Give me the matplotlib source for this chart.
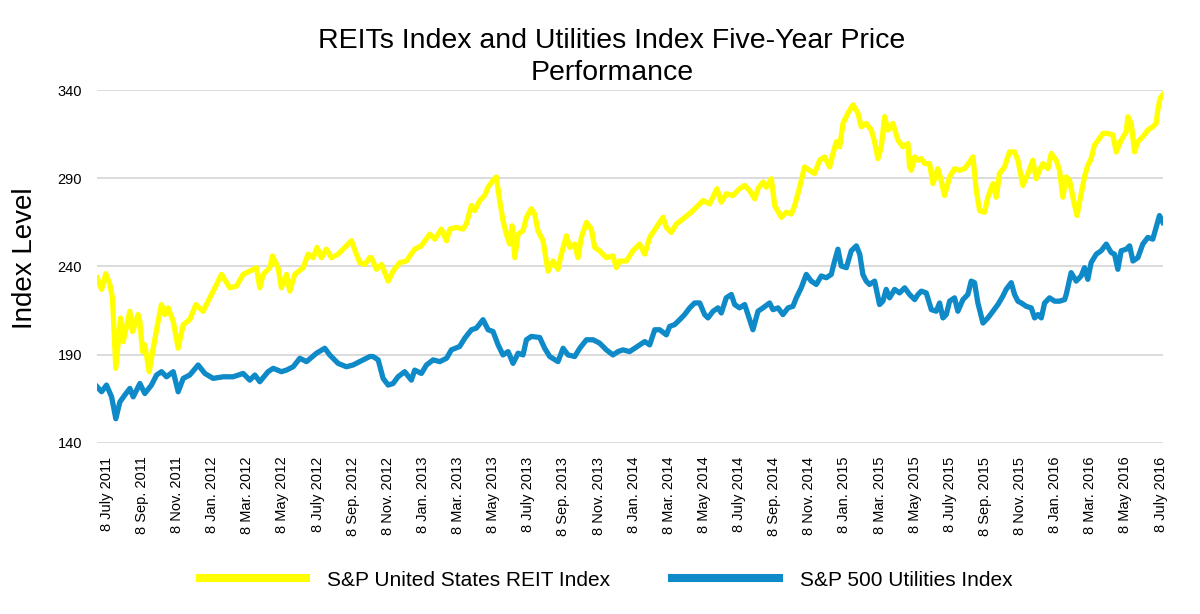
import numpy as np
import matplotlib.pyplot as plt
from matplotlib.lines import Line2D

plt.rcParams['font.family'] = ['Liberation Sans', 'DejaVu Sans']

# x = months after 8 July 2011, y = index level
tick_labels = ['8 July 2011', '8 Sep. 2011', '8 Nov. 2011', '8 Jan. 2012', '8 Mar. 2012',
               '8 May 2012', '8 July 2012', '8 Sep. 2012', '8 Nov. 2012', '8 Jan. 2013',
               '8 Mar. 2013', '8 May 2013', '8 July 2013', '8 Sep. 2013', '8 Nov. 2013',
               '8 Jan. 2014', '8 Mar. 2014', '8 May 2014', '8 July 2014', '8 Sep. 2014',
               '8 Nov. 2014', '8 Jan. 2015', '8 Mar. 2015', '8 May 2015', '8 July 2015',
               '8 Sep. 2015', '8 Nov. 2015', '8 Jan. 2016', '8 Mar. 2016', '8 May 2016',
               '8 July 2016']
yticks = [140, 190, 240, 290, 340]

reit = [(-0.55, 233.6), (-0.30, 227.0), (-0.06, 235.9), (0.17, 229.8), (0.32, 222.2),
        (0.51, 182.2), (0.78, 210.8), (0.93, 197.4), (1.31, 214.6), (1.46, 203.1),
        (1.78, 212.7), (1.88, 208.9), (2.03, 191.7), (2.16, 195.5), (2.41, 180.3),
        (2.64, 193.6), (2.92, 208.9), (3.11, 218.4), (3.30, 212.7), (3.49, 216.5),
        (3.78, 208.9), (4.06, 193.6), (4.35, 207.0), (4.72, 209.8), (5.07, 218.4),
        (5.48, 214.6), (5.77, 220.3), (6.34, 231.7), (6.53, 235.5), (7.00, 227.9),
        (7.38, 228.9), (7.76, 235.5), (8.52, 239.3), (8.71, 227.9), (8.90, 235.5),
        (9.28, 239.3), (9.43, 246.0), (9.75, 239.3), (9.94, 227.9), (10.23, 235.5),
        (10.42, 226.0), (10.70, 235.5), (11.18, 239.3), (11.46, 247.0), (11.75, 245.0),
        (11.97, 250.8), (12.22, 245.0), (12.50, 249.8), (12.79, 245.0), (13.17, 247.0),
        (13.64, 251.7), (13.93, 254.6), (14.21, 247.0), (14.40, 242.2), (14.69, 241.2),
        (14.97, 245.0), (15.07, 245.0), (15.35, 238.4), (15.64, 241.2), (16.02, 231.7),
        (16.30, 237.4), (16.68, 242.2), (17.06, 243.1), (17.25, 246.0), (17.53, 249.8),
        (17.91, 251.7), (18.39, 258.4), (18.67, 255.5), (19.05, 261.2), (19.34, 254.6),
        (19.53, 261.2), (19.91, 262.2), (20.28, 261.2), (20.47, 264.1), (20.76, 274.6),
        (20.95, 271.7), (21.23, 277.4), (21.52, 280.3), (21.71, 285.0), (21.99, 288.9),
        (22.18, 290.8), (22.37, 277.4), (22.56, 266.0), (22.75, 258.4), (22.94, 252.7),
        (23.07, 263.1), (23.23, 245.0), (23.42, 258.4), (23.70, 260.3), (23.89, 267.9),
        (24.17, 272.7), (24.36, 269.8), (24.55, 260.3), (24.84, 254.6), (25.12, 237.4),
        (25.41, 243.1), (25.69, 238.4), (25.88, 247.0), (26.17, 257.4), (26.36, 250.8),
        (26.64, 252.7), (26.83, 245.0), (27.02, 256.5), (27.31, 265.0), (27.59, 261.2),
        (27.78, 250.8), (28.06, 248.9), (28.44, 245.0), (28.82, 246.0), (29.01, 239.3),
        (29.20, 243.1), (29.58, 243.1), (29.96, 248.9), (30.34, 252.7), (30.63, 247.0),
        (30.91, 256.5), (31.29, 262.2), (31.67, 267.9), (31.86, 262.2), (32.14, 259.3),
        (32.43, 264.1), (32.81, 267.0), (33.28, 270.8), (33.57, 273.6), (33.95, 277.4),
        (34.33, 275.5), (34.74, 284.1), (34.99, 276.5), (35.27, 281.2), (35.65, 280.3),
        (36.03, 284.1), (36.32, 286.0), (36.60, 283.1), (36.89, 278.4), (37.08, 284.1),
        (37.36, 287.9), (37.55, 285.0), (37.84, 289.8), (38.03, 274.6), (38.41, 267.9),
        (38.69, 270.8), (38.98, 269.8), (39.17, 274.6), (39.45, 285.0), (39.73, 296.5),
        (40.02, 294.6), (40.30, 292.7), (40.59, 300.3), (40.87, 302.2), (41.16, 296.5),
        (41.35, 304.1), (41.54, 310.8), (41.73, 307.9), (41.92, 321.2), (42.20, 327.0),
        (42.49, 331.7), (42.77, 327.0), (42.96, 319.3), (43.24, 321.2), (43.53, 317.4),
        (43.72, 310.8), (43.91, 301.2), (44.10, 307.9), (44.29, 325.0), (44.48, 317.4),
        (44.76, 321.2), (45.05, 311.7), (45.33, 307.9), (45.62, 309.8), (45.71, 296.5),
        (45.81, 294.6), (46.00, 302.2), (46.19, 300.3), (46.38, 301.2), (46.57, 298.4),
        (46.85, 298.4), (47.04, 287.0), (47.32, 295.5), (47.51, 288.9), (47.70, 280.3),
        (47.99, 290.8), (48.27, 295.5), (48.56, 294.6), (48.84, 295.5), (49.13, 299.3),
        (49.32, 302.2), (49.51, 283.1), (49.70, 271.7), (49.98, 270.8), (50.17, 279.3),
        (50.46, 287.0), (50.65, 279.3), (50.83, 292.7), (51.12, 296.5), (51.40, 305.0),
        (51.69, 305.0), (51.88, 300.3), (52.16, 286.0), (52.45, 292.7), (52.73, 300.3),
        (52.92, 289.8), (53.11, 294.6), (53.30, 298.4), (53.59, 295.5), (53.78, 304.1),
        (54.06, 300.3), (54.25, 294.6), (54.44, 279.3), (54.63, 290.8), (54.82, 288.9),
        (55.01, 279.3), (55.24, 268.9), (55.48, 281.2), (55.67, 290.8), (55.86, 297.4),
        (56.05, 301.2), (56.24, 308.9), (56.53, 312.7), (56.72, 315.5), (57.00, 315.5),
        (57.29, 314.6), (57.48, 305.0), (57.76, 311.7), (58.05, 316.5), (58.14, 325.0),
        (58.33, 321.2), (58.52, 305.0), (58.71, 310.8), (58.99, 313.6), (59.28, 317.4),
        (59.56, 319.3), (59.75, 321.2), (59.85, 328.9), (59.98, 335.5), (60.13, 337.4)]

utilities = [(-0.55, 171.7), (-0.30, 168.9), (-0.02, 172.7), (0.27, 166.0), (0.51, 153.6),
             (0.74, 163.1), (1.02, 167.0), (1.31, 170.8), (1.50, 166.0), (1.88, 173.6),
             (2.16, 167.9), (2.54, 172.7), (2.83, 178.4), (3.11, 180.3), (3.40, 177.4),
             (3.78, 180.3), (4.06, 168.9), (4.35, 176.5), (4.72, 178.4), (5.20, 184.1),
             (5.58, 179.3), (6.05, 176.5), (6.62, 177.4), (7.19, 177.4), (7.76, 179.3),
             (8.14, 175.5), (8.43, 178.4), (8.71, 174.6), (9.18, 180.3), (9.47, 182.2),
             (9.94, 180.3), (10.23, 181.2), (10.61, 183.1), (10.99, 187.9), (11.37, 186.0),
             (11.94, 190.8), (12.41, 193.6), (12.69, 189.8), (13.17, 185.0), (13.64, 183.1),
             (14.02, 184.1), (14.40, 186.0), (14.97, 188.9), (15.16, 188.9), (15.45, 187.0),
             (15.73, 176.5), (16.02, 172.7), (16.30, 173.6), (16.58, 177.4), (16.96, 180.3),
             (17.34, 175.5), (17.53, 181.2), (17.91, 179.3), (18.20, 184.1), (18.58, 187.0),
             (18.96, 186.0), (19.34, 187.9), (19.62, 192.7), (20.09, 194.6), (20.38, 199.3),
             (20.76, 204.1), (21.04, 205.0), (21.42, 209.8), (21.71, 204.1), (21.99, 203.1),
             (22.28, 195.5), (22.56, 189.8), (22.85, 191.7), (23.13, 185.0), (23.42, 190.8),
             (23.70, 189.8), (23.89, 198.4), (24.17, 200.3), (24.65, 199.7), (24.93, 193.6),
             (25.22, 188.9), (25.69, 186.0), (25.98, 193.6), (26.26, 189.8), (26.64, 188.9),
             (26.93, 193.6), (27.31, 198.4), (27.69, 198.4), (28.06, 196.5), (28.44, 192.7),
             (28.82, 189.8), (29.11, 191.7), (29.39, 192.7), (29.77, 191.7), (30.06, 193.6),
             (30.34, 195.5), (30.63, 197.4), (30.91, 195.5), (31.20, 204.1), (31.48, 204.1),
             (31.86, 201.2), (32.05, 206.0), (32.33, 207.0), (32.62, 209.8), (32.90, 212.7),
             (33.19, 216.5), (33.47, 219.3), (33.76, 219.3), (34.04, 212.7), (34.23, 210.8),
             (34.52, 214.6), (34.80, 216.5), (34.99, 213.6), (35.27, 222.2), (35.56, 224.1),
             (35.75, 218.4), (36.03, 216.5), (36.32, 218.4), (36.51, 212.7), (36.79, 204.1),
             (37.08, 214.6), (37.36, 216.5), (37.74, 219.3), (37.93, 215.5), (38.22, 216.5),
             (38.50, 212.7), (38.79, 216.5), (39.07, 217.4), (39.26, 222.2), (39.54, 227.9),
             (39.83, 235.5), (40.11, 231.7), (40.40, 229.8), (40.68, 234.6), (40.97, 233.6),
             (41.25, 235.5), (41.44, 243.1), (41.63, 249.8), (41.82, 240.3), (42.11, 239.3),
             (42.39, 248.9), (42.68, 251.7), (42.87, 247.0), (43.05, 235.5), (43.24, 231.7),
             (43.43, 229.8), (43.72, 231.7), (44.00, 218.4), (44.19, 220.3), (44.38, 227.0),
             (44.57, 222.2), (44.86, 227.0), (45.14, 225.0), (45.43, 227.9), (45.71, 224.1),
             (46.00, 221.2), (46.19, 224.1), (46.38, 226.0), (46.66, 225.0), (46.95, 215.5),
             (47.23, 214.6), (47.42, 219.3), (47.61, 210.8), (47.80, 212.7), (47.99, 220.3),
             (48.27, 222.2), (48.46, 214.6), (48.75, 221.2), (49.03, 224.1), (49.22, 231.7),
             (49.41, 230.8), (49.60, 219.3), (49.89, 207.9), (50.17, 210.8), (50.46, 214.6),
             (50.74, 218.4), (51.02, 223.1), (51.21, 227.0), (51.50, 230.8), (51.69, 224.1),
             (51.88, 220.3), (52.07, 219.3), (52.35, 217.4), (52.64, 216.5), (52.83, 210.8),
             (53.02, 212.7), (53.21, 210.8), (53.40, 219.3), (53.68, 222.2), (53.97, 220.3),
             (54.25, 220.3), (54.54, 221.2), (54.63, 224.1), (54.91, 236.5), (55.20, 231.7),
             (55.48, 234.6), (55.67, 239.3), (55.86, 232.7), (56.05, 242.2), (56.34, 247.0),
             (56.62, 248.9), (56.91, 252.7), (57.19, 247.9), (57.38, 247.0), (57.57, 238.4),
             (57.76, 248.9), (58.05, 249.8), (58.24, 251.7), (58.43, 243.1), (58.71, 245.0),
             (58.99, 252.7), (59.28, 256.5), (59.56, 255.5), (59.75, 262.2), (59.94, 268.9),
             (60.13, 265.0)]

reit_x, reit_y = np.array(reit).T
util_x, util_y = np.array(utilities).T

yellow = '#ffff00'
blue = '#0e8ac8'

fig = plt.figure(figsize=(12, 6.14), dpi=100)
ax = fig.add_axes([0.081, 0.279, 0.888, 0.574])

ax.plot(reit_x, reit_y, color=yellow, lw=3.8, solid_joinstyle='round', zorder=3)
ax.plot(util_x, util_y, color=blue, lw=3.8, solid_joinstyle='round', zorder=3)

ax.set_xlim(-0.55, 60.13)
ax.set_ylim(140, 340)
ax.set_yticks(yticks)
ax.set_xticks(np.arange(0, 61, 2))
ax.set_xticklabels(tick_labels, rotation=90)
ax.yaxis.grid(True, color='#d9d9d9', lw=1.3)
ax.set_axisbelow(True)
for s in ax.spines.values():
    s.set_visible(False)
ax.tick_params(axis='y', length=0, pad=11, labelsize=10.5)
ax.tick_params(axis='x', length=0, pad=10, labelsize=10.5)

fig.text(0.0205, 0.58, 'Index Level', rotation=90, ha='center', va='center', fontsize=20)
fig.text(0.51, 0.907, 'REITs Index and Utilities Index Five-Year Price\nPerformance',
         ha='center', va='center', fontsize=20.5, linespacing=1.28)

handles = [Line2D([], [], color=yellow, lw=5.8), Line2D([], [], color=blue, lw=5.8)]
fig.legend(handles, ['S&P United States REIT Index', 'S&P 500 Utilities Index'],
           loc='center', bbox_to_anchor=(0.505, 0.055), ncol=2, frameon=False,
           fontsize=15, handlelength=5.1, handletextpad=1.0, columnspacing=3.0)

fig.savefig('out.png', dpi=100)
